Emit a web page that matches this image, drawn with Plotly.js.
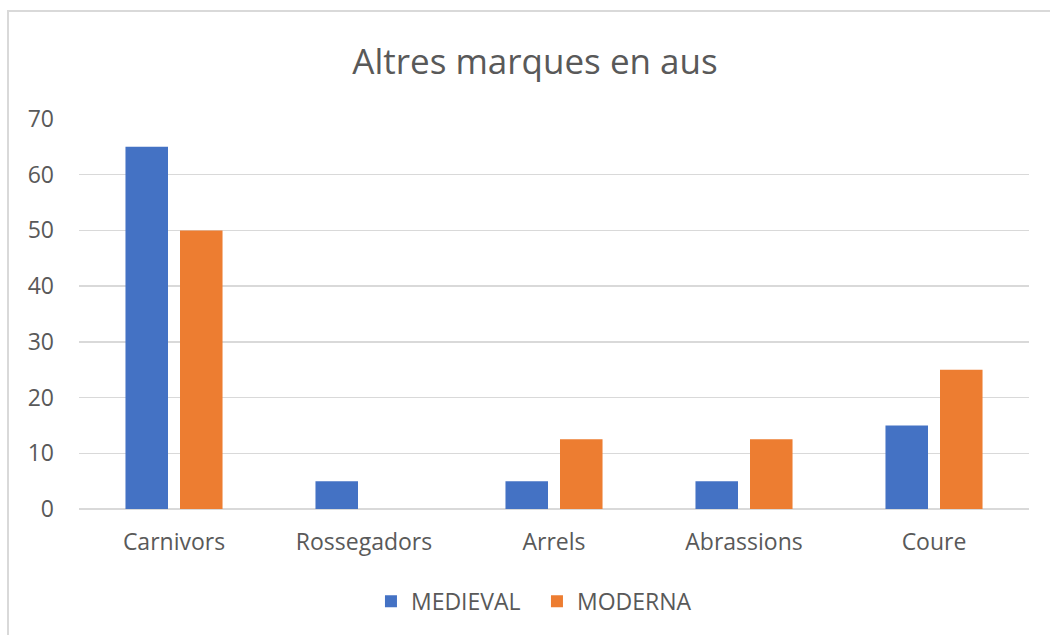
<!DOCTYPE html>
<html>
<head>
<meta charset="utf-8">
<script src="https://cdn.plot.ly/plotly-3.0.1.min.js"></script>
<style>
html,body{margin:0;padding:0;background:#fff;}
#wrap{position:relative;width:1050px;height:635px;overflow:hidden;}
#chart{width:1050px;height:635px;}
#frame{position:absolute;left:7px;top:10px;width:1060px;height:640px;border:2px solid #d9d9d9;pointer-events:none;box-sizing:border-box;}
</style>
</head>
<body>
<div id="wrap"><div id="chart"></div><div id="frame"></div></div>
<script>
const categories = ["Carnivors", "Rossegadors", "Arrels", "Abrassions", "Coure"];
const medieval = [65, 5, 5, 5, 15];
const moderna = [50, 0, 12.5, 12.5, 25];
const seriesNames = ["MEDIEVAL", "MODERNA"];
const yTicks = [0, 10, 20, 30, 40, 50, 60, 70];

const font = "'Open Sans', 'Noto Sans', sans-serif";
const traces = [
  {type: "bar", name: seriesNames[0], x: categories, y: medieval, marker: {color: "#4472C4"}},
  {type: "bar", name: seriesNames[1], x: categories, y: moderna, marker: {color: "#ED7D31"}}
];
const layout = {
  width: 1050, height: 635,
  margin: {l: 79, r: 21, t: 119, b: 126},
  paper_bgcolor: "#fff", plot_bgcolor: "#fff",
  font: {family: font, color: "#595959", size: 22},
  title: {text: "Altres marques en aus", x: 0.5095, xref: "container", xanchor: "center", y: 0.902, yref: "container", yanchor: "middle", font: {size: 35, color: "#595959", family: font}},
  barmode: "group", bargap: 0.426, bargroupgap: 0.22,
  xaxis: {showgrid: false, showline: false, ticks: "", tickfont: {size: 23, color: "#595959"}, ticklabelstandoff: 17, fixedrange: true},
  yaxis: {range: [0, 70], tickvals: yTicks, showgrid: true, gridcolor: "#d9d9d9", gridwidth: 1.5, zeroline: true, zerolinecolor: "#d9d9d9", zerolinewidth: 1.5, showline: false, ticks: "", tickfont: {size: 23, color: "#595959"}, ticklabelstandoff: 24, fixedrange: true},
  showlegend: true,
  legend: {orientation: "h", x: 0.3533, xanchor: "left", xref: "container", y: 0.053, yref: "container", yanchor: "middle", font: {size: 23, color: "#595959"}, itemwidth: 30, entrywidth: 121, traceorder: "normal"}
};
Plotly.newPlot("chart", traces, layout, {displayModeBar: false, staticPlot: true});
</script>
</body>
</html>
